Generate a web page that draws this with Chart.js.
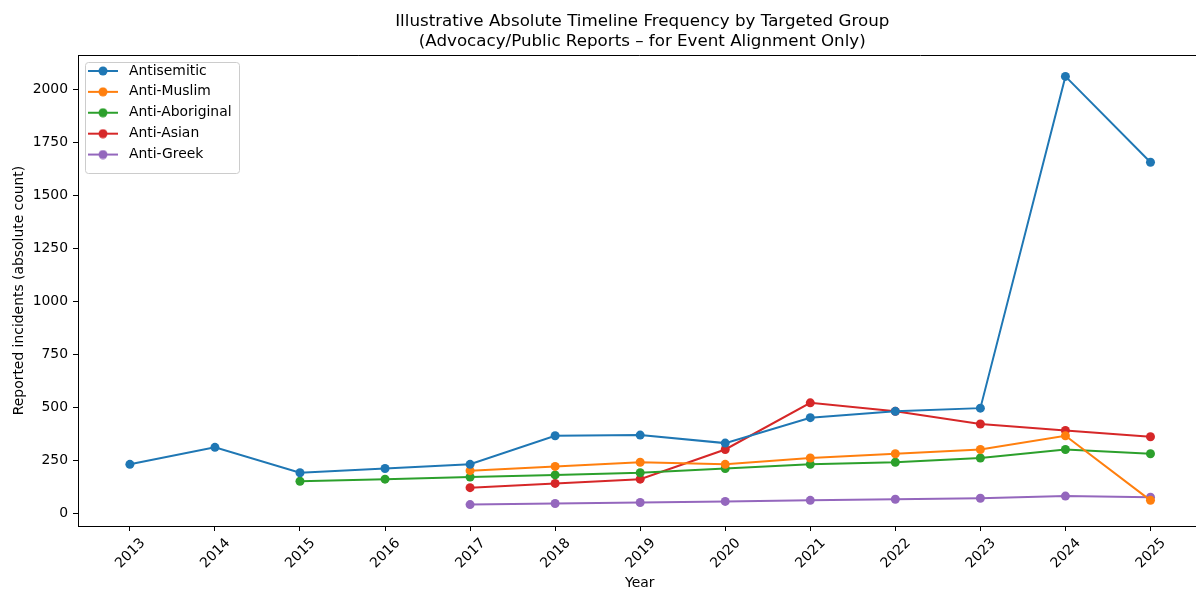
<!DOCTYPE html>
<html>
<head>
<meta charset="utf-8">
<script src="https://cdn.jsdelivr.net/npm/chart.js@4.4.1/dist/chart.umd.min.js"></script>
<style>
  html, body { margin: 0; padding: 0; background: #fff; overflow: hidden; }
  #wrap { width: 1206px; height: 589px; }
</style>
</head>
<body>
<div id="wrap"><canvas id="grafico"></canvas></div>
<script>
// Dados
const anos = [2013, 2014, 2015, 2016, 2017, 2018, 2019, 2020, 2021, 2022, 2023, 2024, 2025];
const antisemitic = [230, 310, 190, 210, 230, 365, 368, 330, 450, 480, 495, 2060, 1655];
const antiMuslim = [null, null, null, null, 200, 220, 240, 230, 260, 280, 300, 365, 60];
const antiAboriginal = [null, null, 150, 160, 170, 180, 190, 210, 230, 240, 260, 300, 280];
const antiAsian = [null, null, null, null, 120, 140, 160, 300, 520, 480, 420, 390, 360];
const antiGreek = [null, null, null, null, 40, 45, 50, 55, 60, 65, 70, 80, 75];
const yTicks = [0, 250, 500, 750, 1000, 1250, 1500, 1750, 2000];

const titulo = [
    'Illustrative Absolute Timeline Frequency by Targeted Group',
    '(Advocacy/Public Reports \u2013 for Event Alignment Only)'
];

const fonte = '"DejaVu Sans", sans-serif';
const tamanho = 13.9;

// Monta pontos {x, y} a partir dos anos
function pontos(valores) {
    return anos.map((ano, i) => ({ x: ano, y: valores[i] }));
}

function serie(label, valores, cor) {
    return {
        label: label,
        data: pontos(valores),
        borderColor: cor,
        backgroundColor: cor,
        borderWidth: 2,
        pointRadius: 4.5,
        pointHoverRadius: 4.5,
        pointBorderWidth: 0,
        pointBackgroundColor: cor,
        spanGaps: false,
        tension: 0
    };
}

// Ícone da legenda: linha com marcador
function iconeLegenda(cor) {
    const c = document.createElement('canvas');
    c.width = 35;
    c.height = 10;
    const g = c.getContext('2d');
    g.strokeStyle = cor;
    g.lineWidth = 2;
    g.beginPath();
    g.moveTo(1, 5);
    g.lineTo(31, 5);
    g.stroke();
    g.fillStyle = cor;
    g.beginPath();
    g.arc(16, 5, 4.5, 0, Math.PI * 2);
    g.fill();
    return c;
}

// Título centrado na área do gráfico + borda superior + moldura da legenda
const extras = {
    id: 'extras',
    afterLayout(chart) {
        // legenda dentro da área do gráfico, canto superior esquerdo
        const lg = chart.legend;
        const area = chart.chartArea;
        const w = lg.width, h = lg.height;
        lg.left = area.left + 2;
        lg.right = lg.left + w;
        lg.top = area.top + 2;
        lg.bottom = lg.top + h;
    },
    afterDraw(chart) {
        const ctx = chart.ctx;
        const area = chart.chartArea;
        ctx.save();
        // borda superior
        ctx.strokeStyle = '#000';
        ctx.lineWidth = 1;
        ctx.beginPath();
        ctx.moveTo(area.left, area.top + 0.5);
        ctx.lineTo(area.right, area.top + 0.5);
        ctx.stroke();

        // título
        const cx = (area.left + area.right + 5) / 2;
        ctx.fillStyle = '#000';
        ctx.font = '16.7px ' + fonte;
        ctx.textAlign = 'center';
        ctx.textBaseline = 'alphabetic';
        ctx.fillText(titulo[0], cx, 26);
        ctx.fillText(titulo[1], cx, 46);

        // moldura da legenda
        const lg = chart.legend;
        ctx.strokeStyle = 'rgba(204,204,204,1)';
        ctx.lineWidth = 1;
        ctx.beginPath();
        ctx.roundRect(lg.left + 5.5, lg.top + 5.5, lg.right - 2 - (lg.left + 5.5), 111, 3);
        ctx.stroke();
        ctx.restore();
    }
};

const cores = ['#1f77b4', '#ff7f0e', '#2ca02c', '#d62728', '#9467bd'];

new Chart(document.getElementById('grafico'), {
    type: 'line',
    data: {
        datasets: [
            serie('Antisemitic', antisemitic, cores[0]),
            serie('Anti-Muslim', antiMuslim, cores[1]),
            serie('Anti-Aboriginal', antiAboriginal, cores[2]),
            serie('Anti-Asian', antiAsian, cores[3]),
            serie('Anti-Greek', antiGreek, cores[4])
        ]
    },
    options: {
        responsive: true,
        maintainAspectRatio: false,
        animation: false,
        layout: { padding: { top: 55, left: 7, right: 0, bottom: 0 } },
        plugins: {
            title: { display: false },
            tooltip: { enabled: false },
            legend: {
                position: 'chartArea',
                align: 'start',
                labels: {
                    font: { family: fonte, size: tamanho },
                    color: '#000',
                    usePointStyle: true,
                    pointStyleWidth: 35,
                    boxHeight: 10,
                    padding: 7,
                    generateLabels(chart) {
                        return chart.data.datasets.map((ds, i) => ({
                            text: ds.label,
                            datasetIndex: i,
                            pointStyle: iconeLegenda(ds.borderColor),
                            fillStyle: ds.borderColor,
                            strokeStyle: ds.borderColor,
                            lineWidth: 0,
                            fontColor: '#000',
                            hidden: false
                        }));
                    }
                }
            }
        },
        scales: {
            x: {
                type: 'linear',
                min: 2012.39,
                max: 2025.6,
                afterBuildTicks(scale) {
                    scale.ticks = anos.map(v => ({ value: v }));
                },
                afterFit(scale) {
                    scale.height = 63;
                    scale.paddingLeft = 0;
                    scale.paddingRight = 0;
                },
                border: { display: true, color: '#000', width: 1 },
                grid: { drawOnChartArea: false, drawTicks: true, tickLength: 5, tickColor: '#000' },
                ticks: {
                    font: { family: fonte, size: tamanho },
                    color: '#000',
                    minRotation: 45,
                    maxRotation: 45,
                    autoSkip: false,
                    padding: 4,
                    labelOffset: 13,
                    callback: v => String(v)
                },
                title: {
                    display: true,
                    text: 'Year',
                    font: { family: fonte, size: tamanho },
                    color: '#000',
                    padding: { top: 0, bottom: -3 }
                }
            },
            y: {
                type: 'linear',
                min: -61,
                max: 2161,
                afterBuildTicks(scale) {
                    scale.ticks = yTicks.map(v => ({ value: v }));
                },
                afterFit(scale) { scale.width = 71; },
                border: { display: true, color: '#000', width: 1 },
                grid: { drawOnChartArea: false, drawTicks: true, tickLength: 5, tickColor: '#000' },
                ticks: {
                    font: { family: fonte, size: tamanho },
                    color: '#000',
                    padding: 5,
                    callback: v => String(v)
                },
                title: {
                    display: true,
                    text: 'Reported incidents (absolute count)',
                    font: { family: fonte, size: tamanho },
                    color: '#000',
                    padding: { top: 4, bottom: 4 }
                }
            }
        }
    },
    plugins: [extras]
});
</script>
</body>
</html>
